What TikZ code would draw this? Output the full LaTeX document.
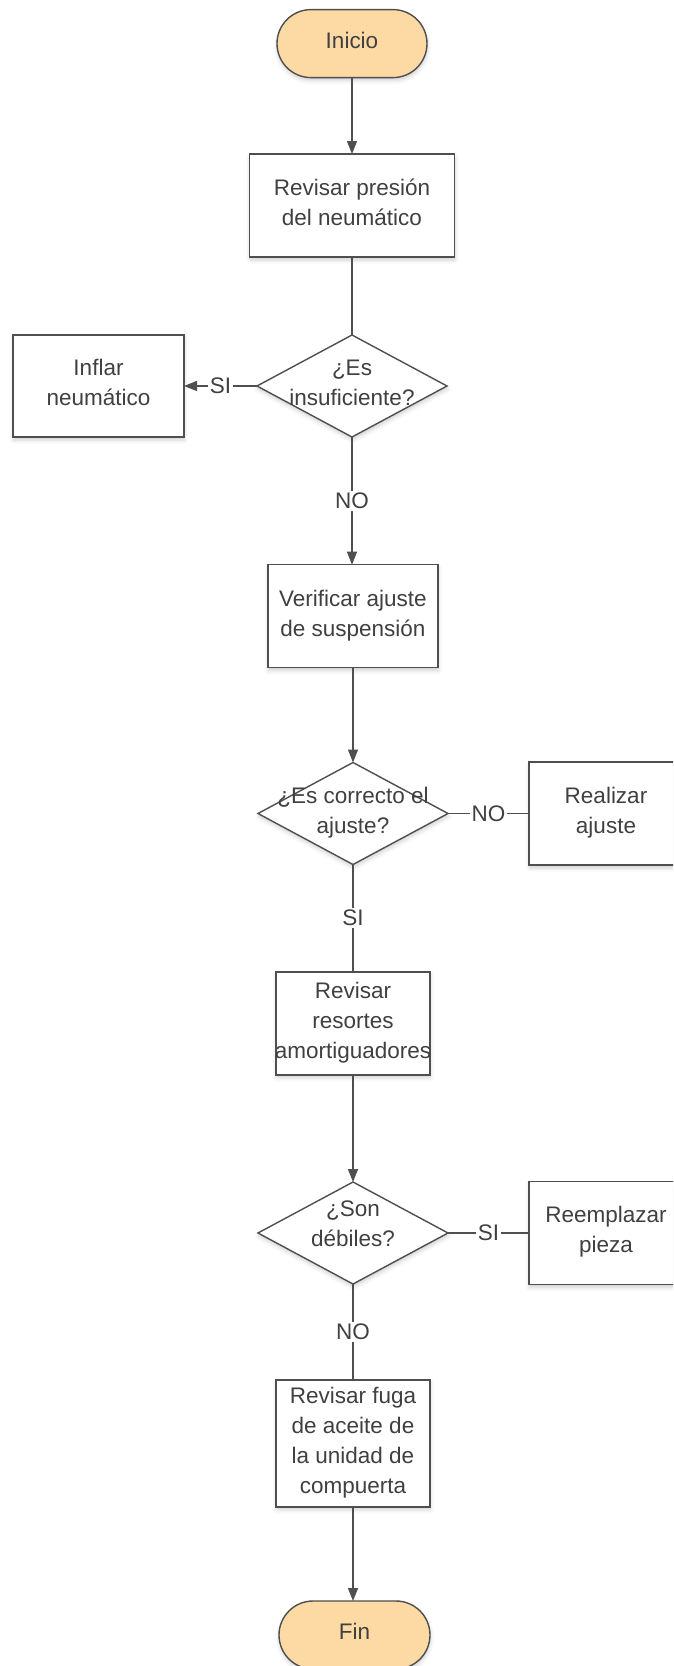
\documentclass[tikz,border=0pt]{standalone}
\usepackage{fontspec}
\setmainfont{Liberation Sans}
\usetikzlibrary{arrows.meta,shapes.geometric,shadows.blur}
\definecolor{linegray}{HTML}{4F4F4F}
\definecolor{textgray}{HTML}{404040}
\definecolor{termfill}{HTML}{FDD9A3}
% centred multi-line text that does not widen its shape; optional vertical shift
\newcommand\shapetext[2][-4pt]{\makebox[0pt]{\smash{\raisebox{#1}{\begin{tabular}{@{}c@{}}#2\end{tabular}}}}}
\begin{document}
\begin{tikzpicture}[x=1pt,y=-1pt,
  every node/.style={font=\fontsize{22.5}{30}\selectfont, text=textgray},
  base/.style={draw=linegray, line width=1.4pt, inner sep=0pt, outer sep=0pt,
    blur shadow={shadow xshift=0.5pt, shadow yshift=-3pt, shadow blur radius=4pt, shadow opacity=18}},
  terminal/.style={base, fill=termfill, rounded corners=34pt, minimum width=150pt, minimum height=68pt},
  process/.style={base, fill=white, rectangle},
  decision/.style={base, fill=white, diamond, minimum width=190pt, minimum height=102pt},
  flow/.style={draw=linegray, line width=1.4pt},
  arrow/.style={flow, -{Triangle[length=13pt,width=10pt]}},
  tag/.style={fill=white, inner sep=2pt}]
\useasboundingbox (0,0) rectangle (673,1666);
\clip (0,0) rectangle (673,1666);

% shapes
\node[terminal] (inicio) at (352,43.6) {\shapetext{Inicio}};
\node[process, minimum width=205pt, minimum height=103pt] (revpres) at (352,205.5)
  {\shapetext{Revisar presión\\del neumático}};
\node[decision] (insuf) at (352,386) {\shapetext{¿Es\\insuficiente?}};
\node[process, minimum width=171pt, minimum height=102pt] (inflar) at (98.5,386)
  {\shapetext{Inflar\\neumático}};
\node[process, minimum width=170pt, minimum height=103pt] (verif) at (353,616.2)
  {\shapetext{Verificar ajuste\\de suspensión}};
\node[decision] (correcto) at (353,813.5) {\shapetext{¿Es correcto el\\ajuste?}};
\node[process, minimum width=154pt, minimum height=103pt] (realizar) at (606,813.5)
  {\shapetext{Realizar\\ajuste}};
\node[process, minimum width=154pt, minimum height=103pt] (resortes) at (353,1023.3)
  {\shapetext{Revisar\\resortes\\amortiguadores}};
\node[decision] (debiles) at (353,1233) {\shapetext[2.5pt]{¿Son\\débiles?}};
\node[process, minimum width=154pt, minimum height=103pt] (reemplazar) at (606,1233)
  {\shapetext{Reemplazar\\pieza}};
\node[process, minimum width=154pt, minimum height=127pt] (fuga) at (353,1443.3)
  {\shapetext{Revisar fuga\\de aceite de\\la unidad de\\compuerta}};
\node[terminal, minimum width=151pt] (fin) at (354.5,1635) {\shapetext{Fin}};

% connectors
\draw[arrow] (inicio.south) -- (revpres.north);
\draw[flow] (revpres.south) -- (insuf.north);
\draw[arrow] (insuf.west) -- node[tag]{SI} (inflar.east);
\draw[arrow] (insuf.south) -- node[tag]{NO} (insuf.south |- verif.north);
\draw[arrow] (verif.south) -- (correcto.north);
\draw[flow] (correcto.east) -- node[tag]{NO} (realizar.west);
\draw[flow] (correcto.south) -- node[tag]{SI} (resortes.north);
\draw[arrow] (resortes.south) -- (debiles.north);
\draw[flow] (debiles.east) -- node[tag]{SI} (reemplazar.west);
\draw[flow] (debiles.south) -- node[tag]{NO} (fuga.north);
\draw[arrow] (fuga.south) -- (fuga.south |- fin.north);
\end{tikzpicture}
\end{document}
